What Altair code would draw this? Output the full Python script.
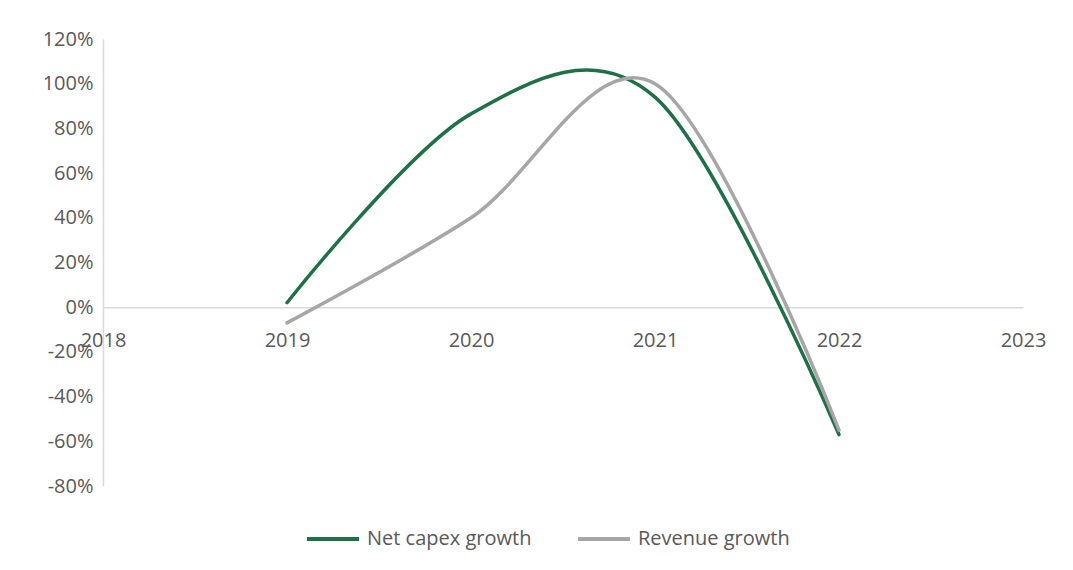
import altair as alt
import pandas as pd

years = [2019, 2020, 2021, 2022]
net_capex = [0.02, 0.865, 0.94, -0.57]
revenue = [-0.07, 0.40, 1.00, -0.55]
series_names = ["Net capex growth", "Revenue growth"]
series_colors = ["#1f7047", "#a6a6a6"]
x_ticks = [2018, 2019, 2020, 2021, 2022, 2023]
y_ticks = [-0.8, -0.6, -0.4, -0.2, 0.0, 0.2, 0.4, 0.6, 0.8, 1.0, 1.2]

rows = []
for y, v in zip(years, net_capex):
    rows.append({"year": y, "value": v, "series": series_names[0]})
for y, v in zip(years, revenue):
    rows.append({"year": y, "value": v, "series": series_names[1]})
df = pd.DataFrame(rows)

W, H = 920, 447
ymin, ymax = y_ticks[0], y_ticks[-1]
below_zero = H * (0 - ymin) / (ymax - ymin)

FONT = "Open Sans"
TXT = "#595959"
FS = 20

chart = alt.Chart(df).mark_line(
    interpolate="cardinal", tension=0, strokeWidth=3.5, strokeCap="round"
).encode(
    x=alt.X("year:Q",
            scale=alt.Scale(domain=[x_ticks[0], x_ticks[-1]], nice=False, zero=False),
            axis=alt.Axis(values=x_ticks, format="d", title=None, ticks=False, grid=False,
                          domainColor="#d9d9d9", domainWidth=1.5, offset=-below_zero,
                          labelPadding=23, labelFontSize=FS, labelColor=TXT, labelFont=FONT,
                          labelFlush=False, labelOverlap=False)),
    y=alt.Y("value:Q",
            scale=alt.Scale(domain=[ymin, ymax], nice=False),
            axis=alt.Axis(values=y_ticks, title=None, ticks=False, grid=False,
                          domainColor="#d9d9d9", domainWidth=1.5,
                          labelExpr="(datum.value < -0.0001 ? '-' : '') + format(abs(datum.value), '.0%')",
                          labelPadding=10, labelFontSize=FS, labelColor=TXT, labelFont=FONT,
                          labelOverlap=False)),
    color=alt.Color("series:N",
                    scale=alt.Scale(domain=series_names, range=series_colors),
                    legend=alt.Legend(title=None, orient="none", direction="horizontal",
                                      legendX=202, legendY=472,
                                      symbolType="stroke", symbolSize=2704,
                                      symbolStrokeWidth=4, labelFontSize=FS,
                                      labelColor=TXT, labelFont=FONT, labelOffset=6,
                                      labelLimit=400, columnPadding=38)),
).properties(
    width=W, height=H,
    background="white",
    autosize=alt.AutoSizeParams(type="none"),
    padding={"left": 95, "top": 31, "right": 42, "bottom": 70},
).configure_view(stroke="transparent", strokeWidth=0)

chart.save("out.html", embed_options={"renderer": "svg", "actions": False})
